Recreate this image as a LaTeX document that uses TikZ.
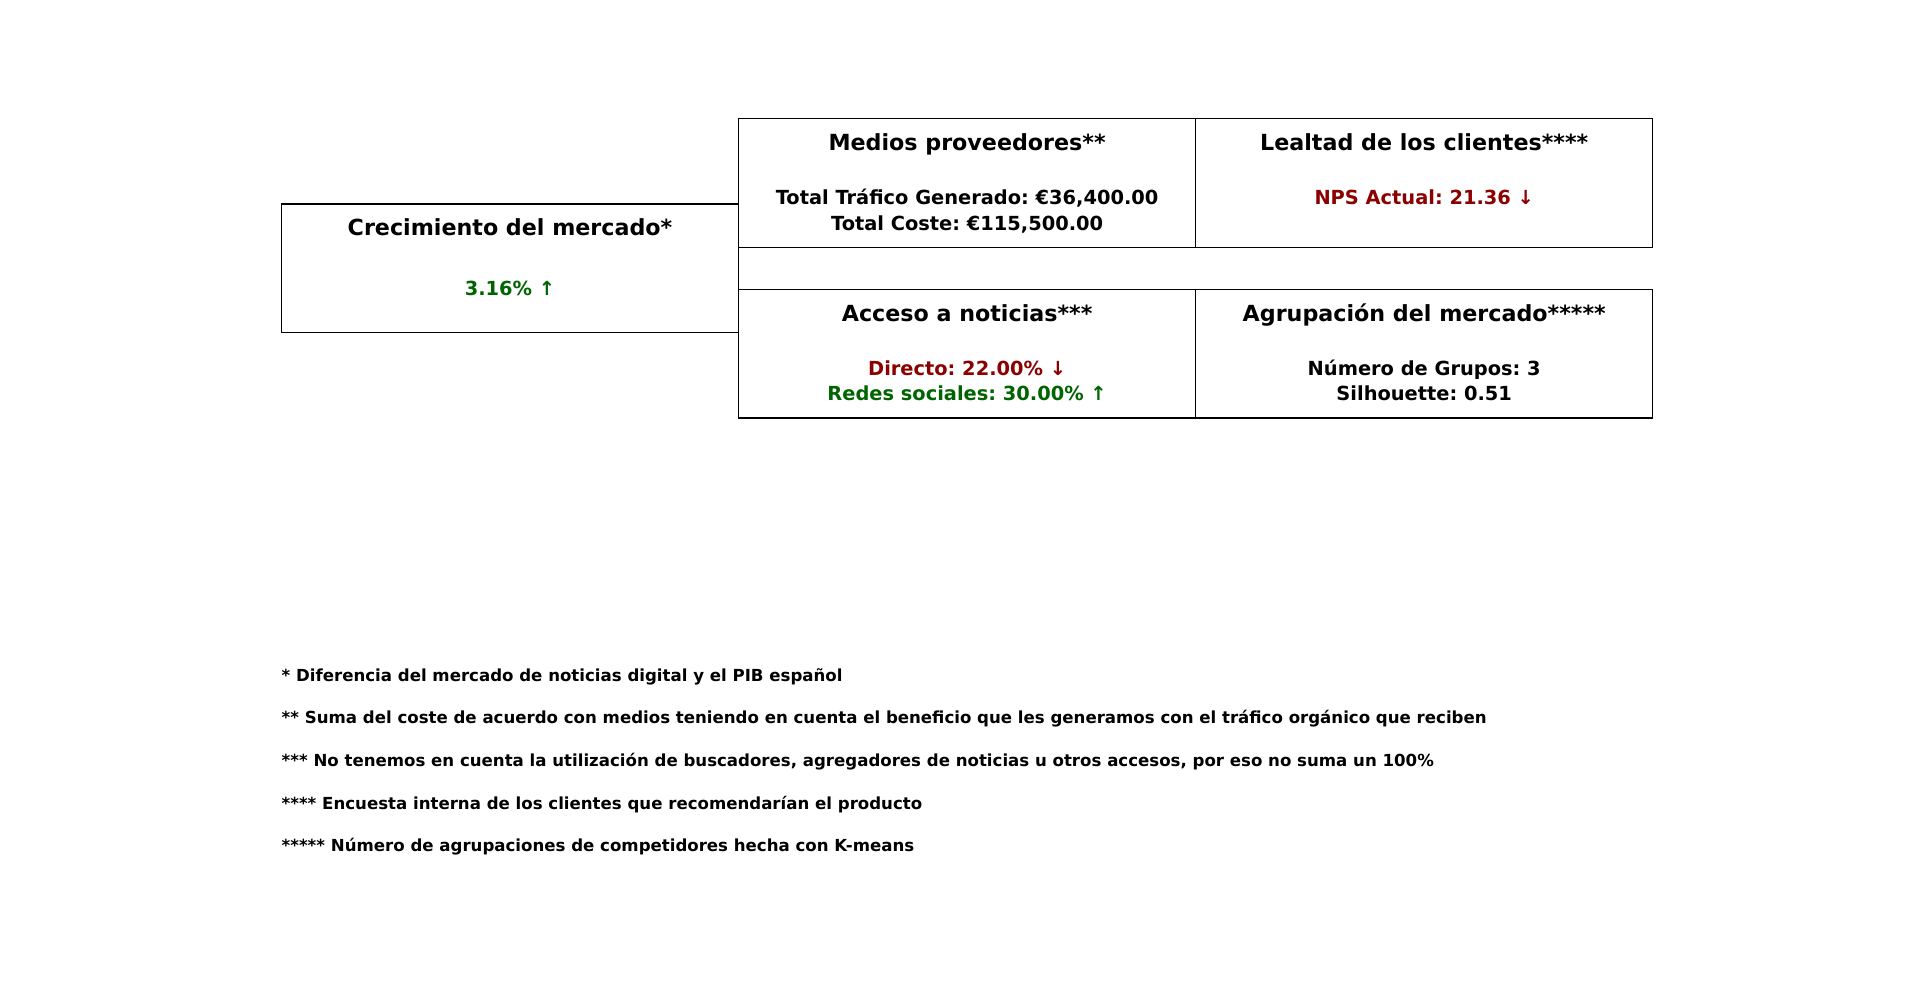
\documentclass[tikz,border=0pt]{standalone}
\usepackage{fontspec}
\setmainfont{DejaVu Sans}
\definecolor{upgreen}{RGB}{0,100,0}
\definecolor{downred}{RGB}{139,0,0}
\begin{document}
\frenchspacing
\begin{tikzpicture}[x=1pt,y=-1pt,
  box/.style={draw=black, line width=1.3pt, rectangle, inner sep=0pt, outer sep=0pt,
    minimum width=457.1pt, minimum height=128.5pt},
  ttl/.style={anchor=base, inner sep=0pt, font=\fontsize{22.2}{26}\selectfont\bfseries},
  val/.style={anchor=base, inner sep=0pt, font=\fontsize{19.4}{23}\selectfont\bfseries},
  fnote/.style={anchor=base west, inner sep=0pt, font=\fontsize{16.6}{20}\selectfont\bfseries}
]
\useasboundingbox (0,0) rectangle (1920,983);
% boxes
\node[box] (crec) at (510.0,268.3) {};
\node[box] (medios) at (967.1,182.9) {};
\node[box] (lealtad) at (1424.2,182.9) {};
\node[box] (acceso) at (967.1,353.6) {};
\node[box] (agrup) at (1424.2,353.6) {};
% Crecimiento
\node[ttl] (crect) at (510.0,235.7) {Crecimiento del mercado*};
\node[val, text=upgreen] (crecv) at (510.0,295.0) {3.16\% ↑};
% Medios
\node[ttl] (mediost) at (967.1,150.0) {Medios proveedores**};
\node[val] (mediosv1) at (967.1,204.4) {Total Tráfico Generado: €36,400.00};
\node[val] (mediosv2) at (967.1,230.1) {Total Coste: €115,500.00};
% Lealtad
\node[ttl] (lealtadt) at (1424.2,150.0) {Lealtad de los clientes****};
\node[val, text=downred] (lealtadv) at (1424.2,204.4) {NPS Actual: 21.36 ↓};
% Acceso
\node[ttl] (accesot) at (967.1,321.3) {Acceso a noticias***};
\node[val, text=downred] (accesov1) at (967.1,375.0) {Directo: 22.00\% ↓};
\node[val, text=upgreen] (accesov2) at (967.1,400.7) {Redes sociales: 30.00\% ↑};
% Agrupacion
\node[ttl] (agrupt) at (1424.2,321.3) {Agrupación del mercado*****};
\node[val] (agrupv1) at (1424.2,375.0) {Número de Grupos: 3};
\node[val] (agrupv2) at (1424.2,400.7) {Silhouette: 0.51};
% footnotes
\node[fnote] (fn1) at (281.5,681.0) {* Diferencia del mercado de noticias digital y el PIB español};
\node[fnote] (fn2) at (281.5,723.7) {** Suma del coste de acuerdo con medios teniendo en cuenta el beneficio que les generamos con el tráfico orgánico que reciben};
\node[fnote] (fn3) at (281.5,766.4) {*** No tenemos en cuenta la utilización de buscadores, agregadores de noticias u otros accesos, por eso no suma un 100\%};
\node[fnote] (fn4) at (281.5,809.1) {**** Encuesta interna de los clientes que recomendarían el producto};
\node[fnote] (fn5) at (281.5,851.7) {***** Número de agrupaciones de competidores hecha con K-means};
\end{tikzpicture}
\end{document}
